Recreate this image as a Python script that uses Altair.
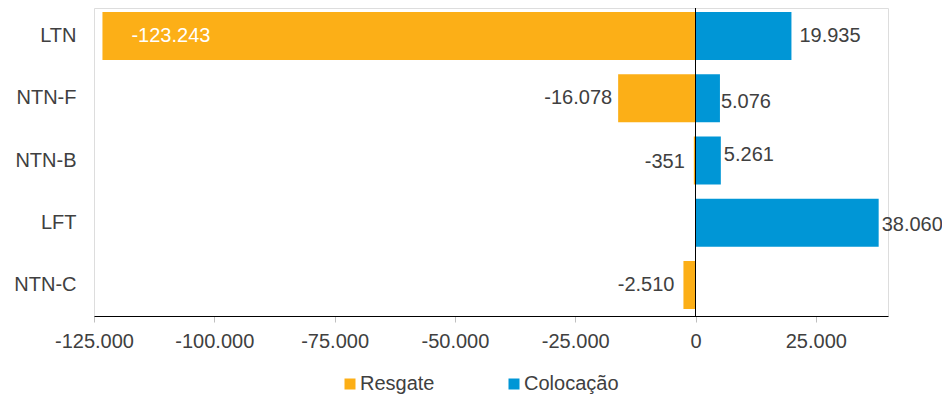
import altair as alt
import pandas as pd

categories = ["LTN", "NTN-F", "NTN-B", "LFT", "NTN-C"]
series_names = ["Resgate", "Colocação"]
resgate = [-123243, -16078, -351, None, -2510]
colocacao = [19935, 5076, 5261, 38060, None]
x_ticks = [-125000, -100000, -75000, -50000, -25000, 0, 25000]
colors = ["#FCAF17", "#0096D6"]

rows = []
for c, r, k in zip(categories, resgate, colocacao):
    if r is not None:
        rows.append({"cat": c, "series": "Resgate", "value": r})
    if k is not None:
        rows.append({"cat": c, "series": "Colocação", "value": k})
df = pd.DataFrame(rows)

FONT = "Liberation Sans"
TXT = "#404040"

x_scale = alt.Scale(domain=[-125000, 40000], nice=False, zero=False)
y_scale = alt.Scale(domain=categories, paddingInner=0.229, paddingOuter=0.0884, align=0.364)

base = alt.Chart(df)

bars = base.mark_bar(strokeWidth=0).encode(
    x=alt.X("value:Q", scale=x_scale, stack=None,
            axis=alt.Axis(title=None, values=x_ticks, format=",d", labelFontSize=20,
                          labelFont=FONT, labelColor=TXT, domainColor="black",
                          domainWidth=1, tickColor="#bfbfbf", tickSize=6, grid=False,
                          labelPadding=9, labelFlush=False, labelOverlap=False)),
    y=alt.Y("cat:N", scale=y_scale, sort=categories,
            axis=alt.Axis(title=None, domain=False, ticks=False, labelFontSize=20,
                          labelFont=FONT, labelColor=TXT, labelPadding=18)),
    color=alt.Color("series:N", scale=alt.Scale(domain=series_names, range=colors),
                    legend=alt.Legend(title=None, orient="none", legendX=246, legendY=366,
                                      direction="horizontal", columnPadding=69,
                                      symbolType="square", symbolSize=121,
                                      symbolStrokeWidth=0, labelFontSize=20,
                                      labelFont=FONT, labelColor=TXT, labelOffset=0,
                                      padding=0)),
)

zero = alt.Chart(pd.DataFrame({"x": [0]})).mark_rule(color="black", strokeWidth=1).encode(
    x=alt.X("x:Q", scale=x_scale)
)

label_adjust = {
    ("LTN", "Resgate"): dict(align="left", dx=29, dy=0, color="white"),
    ("NTN-F", "Resgate"): dict(align="right", dx=-6, dy=0, color=TXT),
    ("NTN-B", "Resgate"): dict(align="right", dx=-9, dy=1, color=TXT),
    ("NTN-C", "Resgate"): dict(align="right", dx=-9, dy=0, color=TXT),
    ("LTN", "Colocação"): dict(align="left", dx=8, dy=0, color=TXT),
    ("NTN-F", "Colocação"): dict(align="left", dx=1, dy=4, color=TXT),
    ("NTN-B", "Colocação"): dict(align="left", dx=3, dy=-6, color=TXT),
    ("LFT", "Colocação"): dict(align="left", dx=3, dy=2, color=TXT),
}

label_layers = []
for (c, s), st in label_adjust.items():
    label_layers.append(
        base.transform_filter(f"datum.cat === '{c}' && datum.series === '{s}'")
        .mark_text(font=FONT, fontSize=20, baseline="middle", align=st["align"],
                   dx=st["dx"], dy=st["dy"], color=st["color"])
        .encode(
            x=alt.X("value:Q", scale=x_scale),
            y=alt.Y("cat:N", scale=y_scale, sort=categories),
            text=alt.Text("value:Q", format=",d"),
        )
    )

chart = alt.layer(bars, zero, *label_layers).properties(
    width=794, height=308,
    autosize=alt.AutoSizeParams(type="none"),
    padding={"left": 86, "top": 0, "right": 54, "bottom": 83},
).configure_view(strokeWidth=0).configure(
    locale=alt.Locale(number=alt.NumberLocale(decimal=",", thousands=".", grouping=[3],
                                              currency=["R$", ""], minus="-"))
)

chart.save("out.html", embed_options={"renderer": "svg", "actions": False})
